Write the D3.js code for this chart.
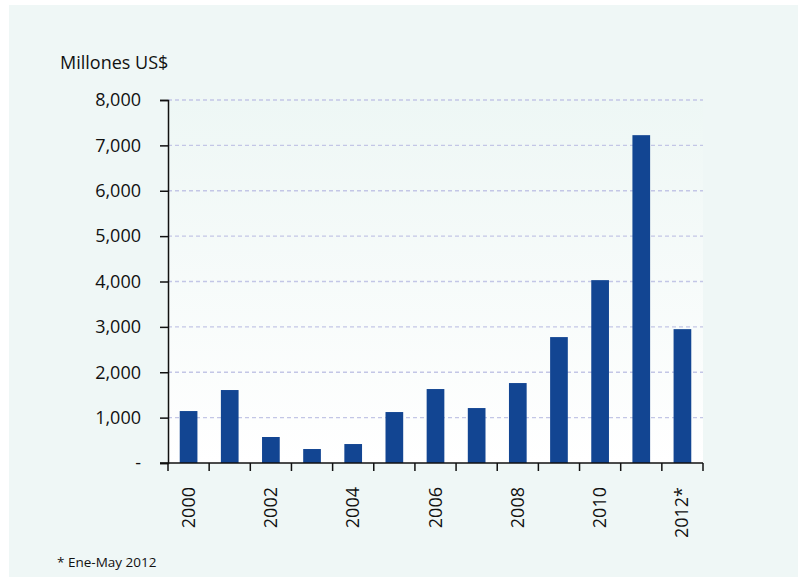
<!DOCTYPE html>
<html>
<head>
<meta charset="utf-8">
<script src="https://cdn.jsdelivr.net/npm/d3@7"></script>
<style>
  body { margin: 0; background: #ffffff; }
  svg { display: block; }
  text { font-family: "Open Sans", "Noto Sans", sans-serif; fill: #111; }
</style>
</head>
<body>
<svg id="chart" width="798" height="584"></svg>
<script>
// data
const years = ["2000","2001","2002","2003","2004","2005","2006","2007","2008","2009","2010","2011","2012"];
const values = [1145, 1608, 573, 308, 418, 1123, 1630, 1211, 1762, 2775, 4030, 7225, 2950];
const yTicks = [0, 1000, 2000, 3000, 4000, 5000, 6000, 7000, 8000];
const labeledYears = ["2000","2002","2004","2006","2008","2010","2012"];
const yearLabels = {"2012": "2012*"};

const margin = { top: 100, right: 95, bottom: 121, left: 168 };
const W = 798, H = 584;
const width = W - margin.left - margin.right;
const height = H - margin.top - margin.bottom;

const svg = d3.select("#chart");

const defs = svg.append("defs");
const grad = defs.append("linearGradient")
  .attr("id", "plotbg").attr("x1", 0).attr("y1", 0).attr("x2", 0).attr("y2", 1);
grad.append("stop").attr("offset", "0%").attr("stop-color", "#eef7f5");
grad.append("stop").attr("offset", "100%").attr("stop-color", "#ffffff");

// outer panel
svg.append("rect")
  .attr("x", 9).attr("y", 5).attr("width", 789).attr("height", 572)
  .attr("fill", "#eff7f6");

const g = svg.append("g")
  .attr("transform", "translate(" + margin.left + "," + margin.top + ")");

g.append("rect")
  .attr("x", 0).attr("y", 0).attr("width", width).attr("height", height)
  .attr("fill", "url(#plotbg)");

const x = d3.scaleBand().domain(years).range([0, width]).paddingInner(0.57).paddingOuter(0.285);
const y = d3.scaleLinear().domain([0, 8000]).range([height, 0]);

// gridlines
g.selectAll(".grid")
  .data(yTicks.filter(d => d > 0))
  .enter().append("line")
  .attr("x1", 0).attr("x2", width)
  .attr("y1", d => y(d)).attr("y2", d => y(d))
  .attr("stroke", "#c3c6e6").attr("stroke-width", 1.3)
  .attr("stroke-dasharray", "4,3");

g.selectAll(".bar")
  .data(values)
  .enter().append("rect")
  .attr("x", (d, i) => x(years[i]))
  .attr("y", d => y(d))
  .attr("width", x.bandwidth())
  .attr("height", d => height - y(d))
  .attr("fill", "#124592");

// y axis
const yAxis = g.append("g")
  .call(d3.axisLeft(y).tickValues(yTicks).tickSize(8).tickPadding(19)
    .tickFormat(d => d === 0 ? "-" : d3.format(",")(d)));
yAxis.select(".domain").attr("stroke", "#111").attr("stroke-width", 1.5);
yAxis.selectAll(".tick line").attr("stroke", "#111").attr("stroke-width", 1.5);
yAxis.selectAll(".tick text").style("font-size", "18px").attr("fill", "#111");

// x axis: ticks at band boundaries
const bounds = d3.range(years.length + 1).map(i => i * width / years.length);
const xAxisG = g.append("g").attr("transform", "translate(0," + height + ")");
xAxisG.append("line").attr("x1", -8).attr("x2", width)
  .attr("stroke", "#111").attr("stroke-width", 1.5);
xAxisG.selectAll(".xt").data(bounds).enter().append("line")
  .attr("x1", d => d).attr("x2", d => d).attr("y1", 0).attr("y2", 8)
  .attr("stroke", "#111").attr("stroke-width", 1.5);

xAxisG.selectAll(".xl").data(labeledYears).enter().append("text")
  .attr("transform", d => "translate(" + (x(d) + x.bandwidth() / 2 + 6) + ",24) rotate(-90)")
  .attr("text-anchor", "end")
  .style("font-size", "18px")
  .text(d => yearLabels[d] || d);

svg.append("text")
  .attr("x", 60).attr("y", 69)
  .style("font-size", "18px")
  .text("Millones US$");

svg.append("text")
  .attr("x", 57).attr("y", 567)
  .style("font-size", "13.5px")
  .text("* Ene-May 2012");
</script>
</body>
</html>
